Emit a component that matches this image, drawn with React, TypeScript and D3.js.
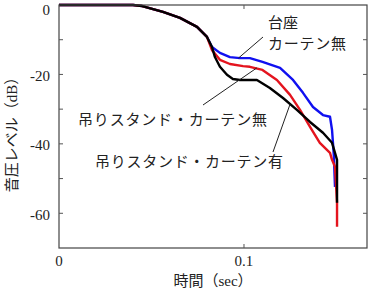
import React, { useEffect, useRef } from "react";
import * as d3 from "d3";

// [time (sec), level (dB)]
const daizaNoCurtain: [number, number][] = [
  [0, 0], [0.04, 0], [0.045, -0.3], [0.0562, -2.0], [0.0654, -3.7], [0.0746, -6.3],
  [0.08, -9.2], [0.0827, -12.1], [0.087, -13.8], [0.0924, -15.0], [0.0978, -15.3],
  [0.1032, -15.3], [0.11, -16.4], [0.1195, -18.1], [0.1265, -21.6], [0.1319, -25.3],
  [0.1373, -29.4], [0.1427, -31.7], [0.1465, -32.2], [0.1476, -36.0], [0.1481, -39.7],
  [0.1486, -43.7], [0.1492, -52.4],
];

const standNoCurtain: [number, number][] = [
  [0, 0], [0.04, 0], [0.045, -0.3], [0.0562, -2.0], [0.0654, -3.7], [0.0746, -6.3],
  [0.08, -9.2], [0.0827, -13.0], [0.087, -15.8], [0.0924, -17.0], [0.0995, -17.6],
  [0.1032, -17.8], [0.11, -18.7], [0.1178, -21.6], [0.1249, -25.9], [0.1303, -30.2],
  [0.1357, -35.1], [0.141, -39.7], [0.1465, -42.6], [0.1476, -44.6], [0.1492, -46.6],
  [0.1503, -57.0], [0.1503, -63.9],
];

const standCurtain: [number, number][] = [
  [0, 0], [0.04, 0], [0.045, -0.3], [0.0562, -2.0], [0.0654, -3.7], [0.0746, -6.3],
  [0.08, -9.2], [0.0827, -12.1], [0.0843, -15.0], [0.087, -17.8], [0.0908, -20.1],
  [0.094, -21.3], [0.0978, -21.6], [0.107, -21.6], [0.114, -23.9], [0.1211, -26.8],
  [0.1286, -30.2], [0.1357, -33.7], [0.1427, -36.8], [0.1476, -39.7], [0.1492, -42.6],
  [0.1503, -44.6], [0.1503, -57.0],
];

const xTicks = [0, 0.1];
const xTickLabels = ["0", "0.1"];
const yLabelTicks = [0, -20, -40, -60];
const yMinorTicks = [-10, -20, -30, -40, -50, -60];

const jp = "Noto Sans CJK JP, Noto Sans, sans-serif";
const serif = "Liberation Serif, serif";

const App: React.FC = () => {
  const svgRef = useRef<SVGSVGElement>(null);
  const width = 375;
  const height = 290;
  const margin = { top: 5, right: 8, bottom: 42, left: 59 };

  useEffect(() => {
    if (!svgRef.current) return;
    const svg = d3.select(svgRef.current);
    svg.selectAll("*").remove();

    const xScale = d3
      .scaleLinear()
      .domain([0, 0.1665])
      .range([margin.left, width - margin.right]);

    const yScale = d3
      .scaleLinear()
      .domain([-70, 0])
      .range([height - margin.bottom, margin.top]);

    const line = d3
      .line<[number, number]>()
      .x((d) => xScale(d[0]))
      .y((d) => yScale(d[1]));

    const series = [
      { data: daizaNoCurtain, color: "#1010f0" },
      { data: standNoCurtain, color: "#e4141e" },
      { data: standCurtain, color: "#000000" },
    ];

    series.forEach((s) => {
      svg
        .append("path")
        .datum(s.data)
        .attr("d", line)
        .attr("fill", "none")
        .attr("stroke", s.color)
        .attr("stroke-width", 2.4)
        .attr("stroke-linejoin", "round");
    });

    // frame
    const x0 = xScale(0);
    const x1 = width - margin.right;
    const y0 = yScale(-70);
    const y1 = yScale(0);
    svg
      .append("rect")
      .attr("x", x0)
      .attr("y", y1)
      .attr("width", x1 - x0)
      .attr("height", y0 - y1)
      .attr("fill", "none")
      .attr("stroke", "#444")
      .attr("stroke-width", 1.2);

    // inner ticks
    const tickG = svg.append("g").attr("stroke", "#555").attr("stroke-width", 1);
    yMinorTicks.forEach((v) => {
      tickG.append("line").attr("x1", x0).attr("x2", x0 + 4).attr("y1", yScale(v)).attr("y2", yScale(v));
      tickG.append("line").attr("x1", x1).attr("x2", x1 - 4).attr("y1", yScale(v)).attr("y2", yScale(v));
    });
    xTicks.slice(1).forEach((v) => {
      tickG.append("line").attr("x1", xScale(v)).attr("x2", xScale(v)).attr("y1", y0).attr("y2", y0 - 4);
      tickG.append("line").attr("x1", xScale(v)).attr("x2", xScale(v)).attr("y1", y1).attr("y2", y1 + 4);
    });

    // tick labels
    yLabelTicks.forEach((v) => {
      svg
        .append("text")
        .attr("x", x0 - 9)
        .attr("y", Math.max(yScale(v) + 6.5, 14.5))
        .attr("text-anchor", "end")
        .style("font-family", serif)
        .style("font-size", "15px")
        .attr("fill", "#222")
        .text(String(v));
    });
    xTicks.forEach((v, i) => {
      svg
        .append("text")
        .attr("x", xScale(v))
        .attr("y", y0 + 18)
        .attr("text-anchor", "middle")
        .style("font-family", serif)
        .style("font-size", "15px")
        .attr("fill", "#222")
        .text(xTickLabels[i]);
    });

    // axis titles
    const xt = svg
      .append("text")
      .attr("x", (x0 + x1) / 2)
      .attr("y", 286)
      .attr("text-anchor", "middle")
      .style("font-size", "15px")
      .attr("fill", "#222");
    xt.append("tspan").style("font-family", jp).text("時間（");
    xt.append("tspan").style("font-family", serif).text("sec");
    xt.append("tspan").style("font-family", jp).text("）");

    const yt = svg
      .append("text")
      .attr("transform", `translate(17,131) rotate(-90)`)
      .attr("text-anchor", "middle")
      .style("font-size", "15px")
      .attr("fill", "#222");
    yt.append("tspan").style("font-family", jp).text("音圧レベル（");
    yt.append("tspan").style("font-family", serif).text("dB");
    yt.append("tspan").style("font-family", jp).text("）");

    // annotations: leader line from label to a point on the curve
    const notes = [
      { lines: ["台座", "カーテン無"], tx: 268, ty: [28, 49], lens: [30, 78], from: [263, 37], at: [0.097, -15.3] },
      { lines: ["吊りスタンド・カーテン無"], tx: 78, ty: [125], lens: [189], from: [203, 105], at: [0.107, -18.1] },
      { lines: ["吊りスタンド・カーテン有"], tx: 95, ty: [167], lens: [188], from: [273, 152], at: [0.1249, -28.6] },
    ];
    notes.forEach((n) => {
      svg
        .append("line")
        .attr("x1", n.from[0])
        .attr("y1", n.from[1])
        .attr("x2", xScale(n.at[0]))
        .attr("y2", yScale(n.at[1]))
        .attr("stroke", "#222")
        .attr("stroke-width", 1);
      n.lines.forEach((t, i) => {
        svg
          .append("text")
          .attr("x", n.tx)
          .attr("y", n.ty[i])
          .style("font-family", jp)
          .style("font-size", "15px")
          .attr("fill", "#222")
          .attr("textLength", n.lens[i])
          .attr("lengthAdjust", "spacing")
          .text(t);
      });
    });
  }, []);

  return (
    <svg
      ref={svgRef}
      width={width}
      height={height}
      style={{ position: "absolute", left: 0, top: 0, background: "#fff" }}
    ></svg>
  );
};

export default App;
